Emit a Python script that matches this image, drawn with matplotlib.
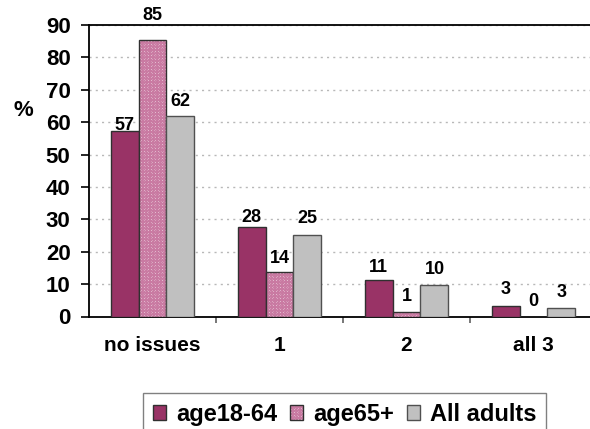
import matplotlib
matplotlib.use("Agg")
import matplotlib.pyplot as plt
from matplotlib.transforms import offset_copy
import numpy as np

categories = ["no issues", "1", "2", "all 3"]
series_names = ["age18-64", "age65+", "All adults"]
age18_64 = [57.4, 27.7, 11.2, 3.2]
age65_plus = [85.3, 13.6, 1.3, 0.0]
all_adults = [62.0, 25.3, 9.7, 2.7]
y_ticks = [0, 10, 20, 30, 40, 50, 60, 70, 80, 90]

# gap (in pixels) between each bar top and its value label, per category / series
label_gap_px = [
    [1, 20, 10],
    [5, 9, 12],
    [8, 11, 11],
    [12, 10, 11],
]

plt.rcParams["font.family"] = ["Liberation Sans", "DejaVu Sans"]
plt.rcParams["font.weight"] = "bold"
plt.rcParams["hatch.linewidth"] = 0.9

W, H = 590, 429
fig = plt.figure(figsize=(W / 100, H / 100), dpi=100)
ax = fig.add_axes([89 / W, 1 - 316.5 / H, (597 - 89) / W, (316.5 - 25) / H])

x = np.arange(len(categories))
w = 0.22
data = [age18_64, age65_plus, all_adults]
handles = []
for i, vals in enumerate(data):
    pos = x + (i - 1) * w
    if i == 0:
        bars = ax.bar(pos, vals, w, color="#993366", edgecolor="#303030",
                      linewidth=1, zorder=3)
    elif i == 1:
        bars = ax.bar(pos, vals, w, facecolor="white", edgecolor="#303030",
                      hatch="xxxxxxxxxxxx", linewidth=1, zorder=3)
        for b in bars:
            b._hatch_color = matplotlib.colors.to_rgba("#c97aa2")
    else:
        bars = ax.bar(pos, vals, w, color="#C0C0C0", edgecolor="#505050",
                      linewidth=1, zorder=3)
    handles.append(bars)
    for j, (p, v) in enumerate(zip(pos, vals)):
        tr = offset_copy(ax.transData, fig=fig, x=0,
                         y=label_gap_px[j][i] * 0.72, units="points")
        ax.text(p, v, f"{v:.0f}", ha="center", va="baseline",
                fontsize=13, fontweight="bold", zorder=4, transform=tr)

ax.set_xlim(-0.5, len(categories) - 0.5)
ax.set_ylim(0, 90)
ax.set_yticks(y_ticks)
ax.set_yticklabels([str(t) for t in y_ticks], fontsize=16, fontweight="bold")
ax.yaxis.grid(True, linestyle=(0, (1.5, 3)), color="#b8b8b8", linewidth=1, zorder=0)
ax.set_axisbelow(True)

ax.set_xticks(x)
ax.set_xticklabels(categories, fontsize=15, fontweight="bold")
ax.set_xticks(np.arange(len(categories)) + 0.5, minor=True)
ax.tick_params(axis="x", which="major", length=0, pad=14)
ax.tick_params(axis="x", which="minor", length=4.5, color="#606060", width=1.2)
ax.tick_params(axis="y", length=5.8, width=1.2, pad=7.5)

for s in ["left", "bottom", "top"]:
    ax.spines[s].set_color("black")
    ax.spines[s].set_linewidth(1.3)
ax.spines["right"].set_visible(False)

fig.text(23 / W, 1 - 110 / H, "%", fontsize=16, fontweight="bold",
         ha="center", va="center")

leg = fig.legend(handles, series_names, loc="upper left",
                 bbox_to_anchor=(143 / W, 1 - 393 / H), ncol=3, frameon=True,
                 fancybox=False, edgecolor="#606060", fontsize=17,
                 handlelength=0.55, handleheight=0.55, handletextpad=0.42,
                 columnspacing=0.55, borderpad=0.42, borderaxespad=0)
leg.get_frame().set_linewidth(1)

fig.savefig("out.png", dpi=100)
